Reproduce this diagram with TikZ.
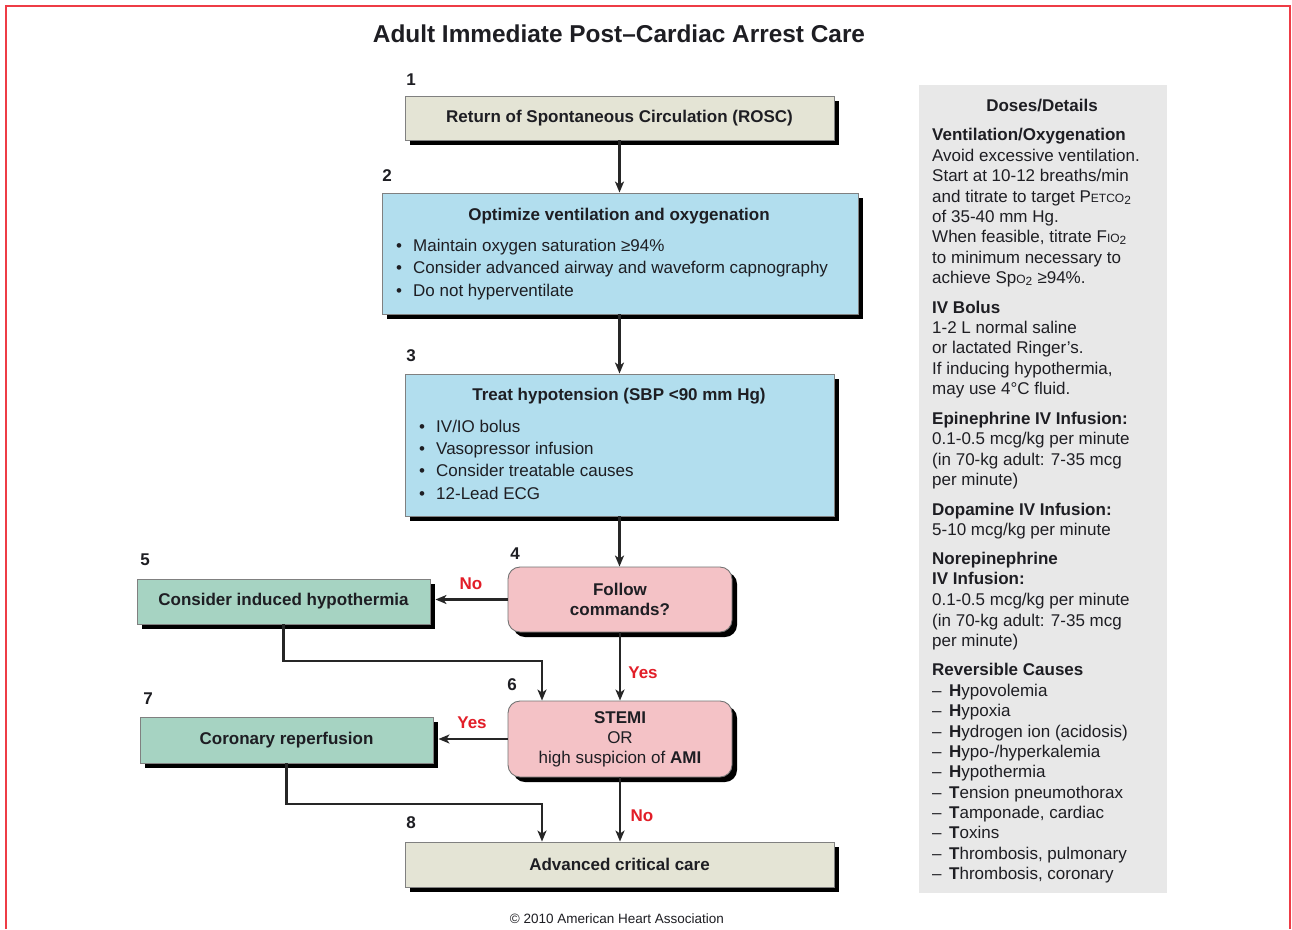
\documentclass[tikz,border=0pt]{standalone}
\usepackage{fontspec}
\setmainfont{Liberation Sans}
\usetikzlibrary{arrows.meta,shadows,calc}
\definecolor{beige}{RGB}{228,228,213}
\definecolor{boxblue}{RGB}{178,222,238}
\definecolor{boxpink}{RGB}{244,194,198}
\definecolor{boxgreen}{RGB}{166,211,194}
\definecolor{panelgray}{RGB}{232,232,232}
\definecolor{ahared}{RGB}{226,30,40}
\definecolor{framered}{RGB}{238,60,70}
\definecolor{ink}{RGB}{30,30,35}
\newcommand\myfs{\fontsize{17}{20}\selectfont}
\newcommand\mysmc[1]{{\fontsize{12}{12}\selectfont #1}}
\tikzset{
  every node/.style={text=ink, inner sep=0pt},
  shad/.style={drop shadow={shadow xshift=5pt,shadow yshift=-5pt,fill=black,opacity=1}},
  sqbox/.style={draw=black!50, line width=0.9pt, shad, rectangle, font=\myfs\bfseries, align=center},
  rdbox/.style={draw=black!55, line width=0.9pt, shad, rectangle, rounded corners=12pt, fill=boxpink, font=\myfs, align=center},
  num/.style={font=\myfs\bfseries},
  yn/.style={font=\myfs\bfseries, text=ahared},
  btxt/.style={font=\myfs, anchor=base west},
  bttl/.style={font=\myfs\bfseries, anchor=base},
  dl/.style={font=\myfs, anchor=base west},
  dh/.style={font=\myfs\bfseries, anchor=base west},
  arr/.style={draw=black!85, line width=2.2pt, -{Stealth[length=11pt,width=9pt,inset=3pt]}},
}
\newcommand\dash{\makebox[17pt][l]{–}}
\begin{document}
\begin{tikzpicture}[x=1pt,y=-1pt]
\useasboundingbox (0,0) rectangle (1292,929);
\fill[white] (0,0) rectangle (1292,929);
% frame
\draw[framered, line width=2pt] (6,929) -- (6,6) -- (1290,6) -- (1290,929);
% title
\node[font=\fontsize{24.4}{28}\selectfont\bfseries] (title) at (619,34) {Adult Immediate Post–Cardiac Arrest Care};

% boxes
\node[sqbox, fill=beige, minimum width=429pt, minimum height=44pt] (b1) at (619.5,118) {Return of Spontaneous Circulation (ROSC)};
\node[sqbox, fill=boxblue, minimum width=476pt, minimum height=121pt] (b2) at (620,253.5) {};
\node[sqbox, fill=boxblue, minimum width=429pt, minimum height=142pt] (b3) at (619.5,445) {};
\node[rdbox, font=\myfs\bfseries, minimum width=224pt, minimum height=65pt] (b4) at (620,599.5) {Follow\\commands?};
\node[sqbox, fill=boxgreen, minimum width=293pt, minimum height=45pt] (b5) at (283.5,601.5) {Consider induced hypothermia};
\node[rdbox, minimum width=224pt, minimum height=76pt] (b6) at (620,739) {\textbf{STEMI}\\OR\\high suspicion of \textbf{AMI}};
\node[sqbox, fill=boxgreen, minimum width=293pt, minimum height=46pt] (b7) at (286.5,740) {Coronary reperfusion};
\node[sqbox, fill=beige, minimum width=429pt, minimum height=45pt] (b8) at (619.5,864.5) {Advanced critical care};

% box 2 text
\node[bttl] (t2) at (619,220) {Optimize ventilation and oxygenation};
\node[btxt] (b2d1) at (396,251) {•};
\node[btxt] (b2d2) at (396,273.5) {•};
\node[btxt] (b2d3) at (396,296) {•};
\node[btxt] (b2l1) at (413,251) {Maintain oxygen saturation ≥94\%};
\node[btxt] (b2l2) at (413,273.5) {Consider advanced airway and waveform capnography};
\node[btxt] (b2l3) at (413,296) {Do not hyperventilate};
% box 3 text
\node[bttl] (t3) at (619,400) {Treat hypotension (SBP <90 mm Hg)};
\node[btxt] (b3d1) at (419,432) {•};
\node[btxt] (b3d2) at (419,454) {•};
\node[btxt] (b3d3) at (419,476) {•};
\node[btxt] (b3d4) at (419,499) {•};
\node[btxt] (b3l1) at (436,432) {IV/IO bolus};
\node[btxt] (b3l2) at (436,454) {Vasopressor infusion};
\node[btxt] (b3l3) at (436,476) {Consider treatable causes};
\node[btxt] (b3l4) at (436,499) {12-Lead ECG};

% numbers
\node[num] (n1) at (411,80) {1};
\node[num] (n2) at (387,176) {2};
\node[num] (n3) at (411,356) {3};
\node[num] (n4) at (515,554) {4};
\node[num] (n5) at (145,560) {5};
\node[num] (n6) at (512,685) {6};
\node[num] (n7) at (148,699) {7};
\node[num] (n8) at (411,823) {8};

% connectors
\draw[arr] (b1.south) -- (b1.south |- b2.north);
\draw[arr] (b2.south -| b1.south) -- (b1.south |- b3.north);
\draw[arr] (b3.south) -- (b3.south |- b4.north);
\draw[arr] (b4.west) -- ($(b4.west -| b5.east)+(5,0)$);
\coordinate (j1) at (542,661);
\draw[arr] (b5.south) |- (j1) -- (j1 |- b6.north);
\draw[arr] (b4.south) -- (b4.south |- b6.north);
\draw[arr] (b6.west) -- ($(b6.west -| b7.east)+(5,0)$);
\coordinate (j2) at (542,804);
\draw[arr] (b7.south) |- (j2) -- (j2 |- b8.north);
\draw[arr] (b6.south) -- (b6.south |- b8.north);

% yes/no labels
\node[yn] (no1) at (471,584) {No};
\node[yn] (yes1) at (643,673) {Yes};
\node[yn] (yes2) at (472,723) {Yes};
\node[yn] (no2) at (642,816) {No};

% panel
\node[fill=panelgray, minimum width=248pt, minimum height=808pt] (panel) at (1043,489) {};
\node[bttl] (ph) at (1042,111) {Doses/Details};
\node[dh] (p1) at (932,140) {Ventilation/Oxygenation};
\node[dl] (p2) at (932,161) {Avoid excessive ventilation.};
\node[dl] (p3) at (932,181) {Start at 10-12 breaths/min};
\node[dl] (p4) at (932,202) {and titrate to target P\mysmc{ETCO}\textsubscript{2}};
\node[dl] (p5) at (932,222) {of 35-40 mm Hg.};
\node[dl] (p6) at (932,242) {When feasible, titrate F\mysmc{IO}\textsubscript{2}};
\node[dl] (p7) at (932,263) {to minimum necessary to};
\node[dl] (p8) at (932,283) {achieve Sp\mysmc{O}\textsubscript{2} ≥94\%.};
\node[dh] (p9) at (932,313) {IV Bolus};
\node[dl] (p10) at (932,333) {1-2 L normal saline};
\node[dl] (p11) at (932,353) {or lactated Ringer’s.};
\node[dl] (p12) at (932,374) {If inducing hypothermia,};
\node[dl] (p13) at (932,394) {may use 4°C fluid.};
\node[dh] (p14) at (932,424) {Epinephrine IV Infusion:};
\node[dl] (p15) at (932,444) {0.1-0.5 mcg/kg per minute};
\node[dl] (p16) at (932,465) {(in 70-kg adult: 7-35 mcg};
\node[dl] (p17) at (932,485) {per minute)};
\node[dh] (p18) at (932,515) {Dopamine IV Infusion:};
\node[dl] (p19) at (932,535) {5-10 mcg/kg per minute};
\node[dh] (p20) at (932,564) {Norepinephrine};
\node[dh] (p21) at (932,584) {IV Infusion:};
\node[dl] (p22) at (932,605) {0.1-0.5 mcg/kg per minute};
\node[dl] (p23) at (932,626) {(in 70-kg adult: 7-35 mcg};
\node[dl] (p24) at (932,646) {per minute)};
\node[dh] (p25) at (932,675) {Reversible Causes};
\node[dl] (p26) at (932,696) {\dash\textbf{H}ypovolemia};
\node[dl] (p27) at (932,716) {\dash\textbf{H}ypoxia};
\node[dl] (p28) at (932,737) {\dash\textbf{H}ydrogen ion (acidosis)};
\node[dl] (p29) at (932,757) {\dash\textbf{H}ypo-/hyperkalemia};
\node[dl] (p30) at (932,777) {\dash\textbf{H}ypothermia};
\node[dl] (p31) at (932,798) {\dash\textbf{T}ension pneumothorax};
\node[dl] (p32) at (932,818) {\dash\textbf{T}amponade, cardiac};
\node[dl] (p33) at (932,838) {\dash\textbf{T}oxins};
\node[dl] (p34) at (932,859) {\dash\textbf{T}hrombosis, pulmonary};
\node[dl] (p35) at (932,879) {\dash\textbf{T}hrombosis, coronary};

% copyright
\node[font=\fontsize{13.5}{16}\selectfont] (copy) at (617,919) {© 2010 American Heart Association};
\end{tikzpicture}
\end{document}
